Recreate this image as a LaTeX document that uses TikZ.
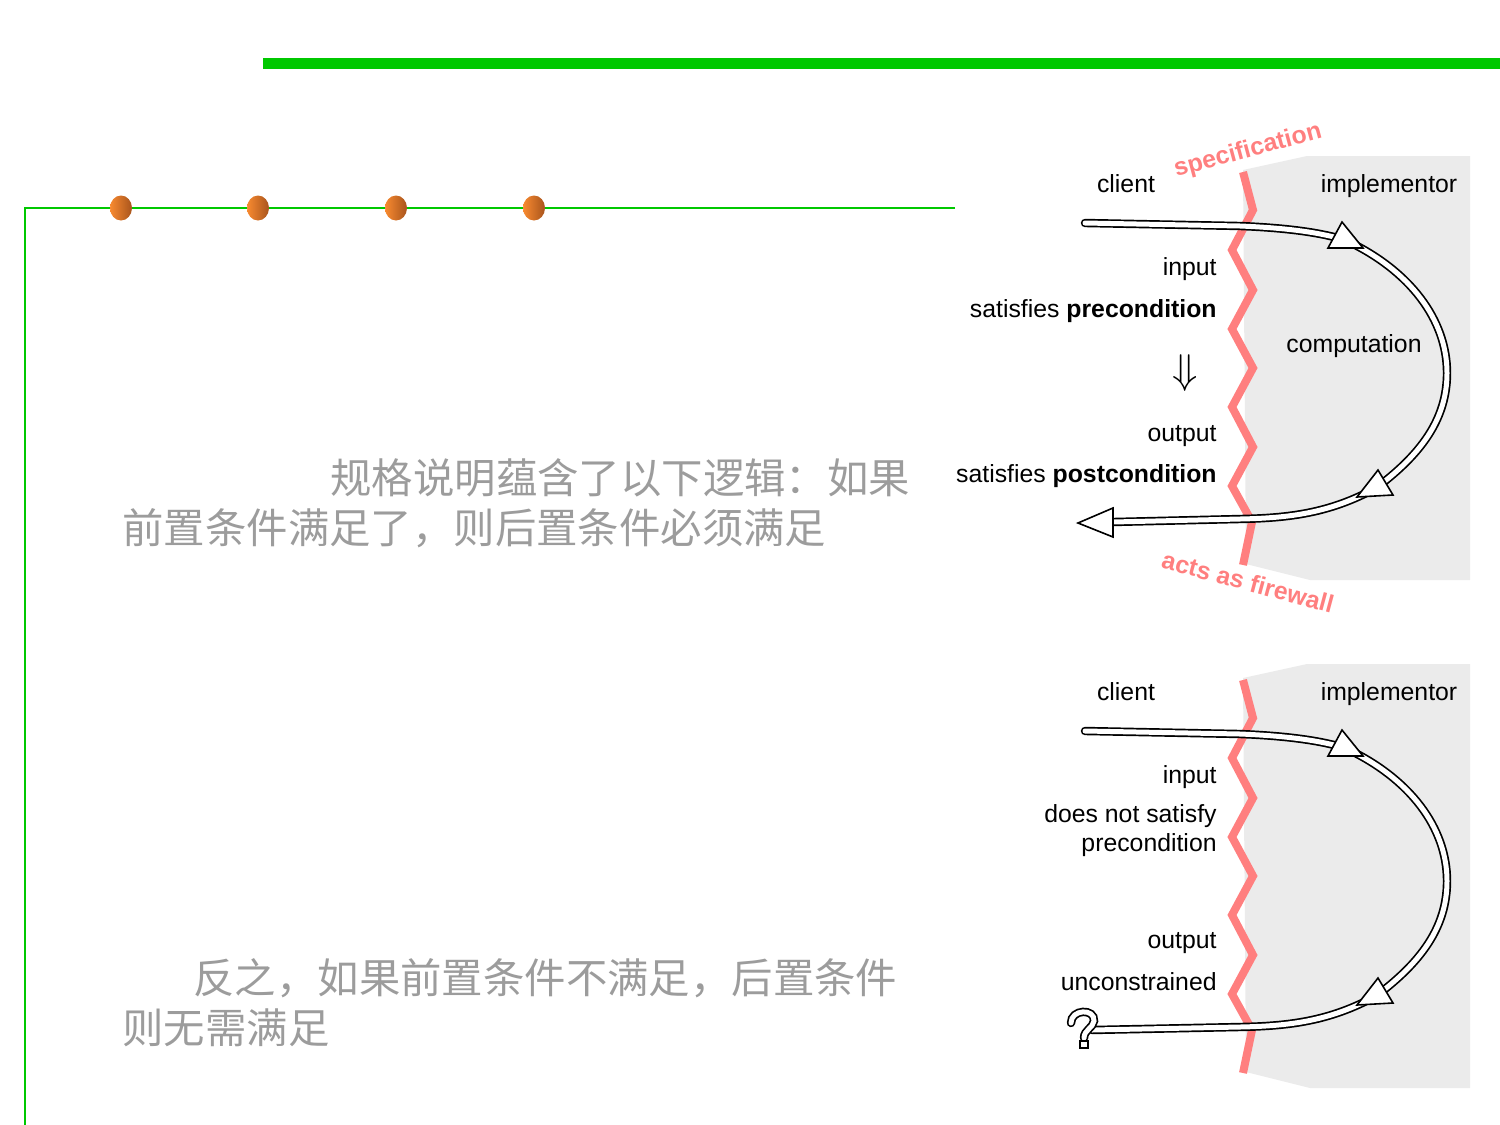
\documentclass[tikz,border=0pt]{standalone}
\usepackage{fontspec}
\setmainfont{Liberation Sans}
\newfontfamily\cjk{Noto Sans CJK SC}
\definecolor{barGreen}{HTML}{00C800}
\definecolor{wallRed}{HTML}{FF7F7F}
\definecolor{zoneGrey}{HTML}{EBEBEB}
\definecolor{noteGrey}{HTML}{9C9C9C}
\definecolor{ballLight}{HTML}{F88A30}
\definecolor{ballDark}{HTML}{A8541C}
\tikzset{
  pipe/.style={draw=black, line width=0.85pt, double=white, double distance=2.5pt, line cap=round},
  tiphead/.style={draw=black, fill=white, line width=0.8pt, line join=miter},
  wall/.style={draw=wallRed, line width=4pt, line join=miter},
  lbl/.style={font=\fontsize{12.4}{14.5}\selectfont, inner sep=0pt},
  lblr/.style={lbl, anchor=base east},
  redlbl/.style={lbl, text=wallRed, font=\fontsize{12.4}{14.5}\selectfont\bfseries},
  cnote/.style={font=\cjk\fontsize{20.7}{25}\selectfont, text=noteGrey, anchor=west, inner sep=0pt},
}
\begin{document}
\begin{tikzpicture}[x=0.5pt, y=-0.5pt]
\useasboundingbox (0,0) rectangle (1500,1125);
% slide frame
\fill[barGreen] (263,58) rectangle (1500,69);
\draw[barGreen, line width=1pt] (955,208) -- (25,208) -- (25,1125);
\foreach \bx in {121,258,396,534}
  \shade[left color=ballLight, right color=ballDark] (\bx,208) ellipse (11 and 12.5);
% notes
\node[cnote] (spec1) at (330,478) {规格说明蕴含了以下逻辑：如果};
\node[cnote] (spec2) at (122,528) {前置条件满足了，则后置条件必须满足};
\node[cnote] (conv1) at (193,978) {反之，如果前置条件不满足，后置条件};
\node[cnote] (conv2) at (122,1028) {则无需满足};
% the two diagrams
\foreach \dy/\t/\ex in {0/a/1113,508/b/1092}{
\begin{scope}[yshift={-0.5pt*\dy}]
  \fill[zoneGrey] (1243,170) -- (1307,156) -- (1470,156) -- (1470,580) -- (1310,580) -- (1246,564) -- cycle;
  \draw[wall] (1243,172) -- (1253,210) -- (1232,250) -- (1253,290) -- (1232,329) -- (1253,368)
    -- (1232,407) -- (1253,447) -- (1232,486) -- (1252,522) -- (1243,565);
  \node[lbl, anchor=base] (client\t) at (1126,192) {client};
  \node[lbl, anchor=base] (impl\t) at (1389,192) {implementor};
  \coordinate (in\t) at (1085,223);
  \coordinate (enter\t) at (1345,240);
  \coordinate (back\t) at (1376,488);
  \coordinate (out\t) at (\ex,522);
  \draw[pipe] (in\t) -- (1240,226) .. controls (1290,228) and (1322,233) .. (enter\t)
    .. controls (1410,270) and (1447,320) .. (1447,373)
    .. controls (1447,420) and (1420,455) .. (back\t)
    .. controls (1330,513) and (1290,518) .. (1240,519) -- (out\t);
  \filldraw[tiphead] (1342,222) -- (1363,248) -- (1328,248) -- cycle;
  \filldraw[tiphead] (1378,470) -- (1393,495) -- (1357,497) -- cycle;
\end{scope}
}
% top: precondition holds
\filldraw[tiphead] (1078,523) -- (1113,508) -- (1113,537) -- cycle;
\node[redlbl, rotate=15] (specn) at (1248,151) {specification};
\node[redlbl, rotate=-15] (fwall) at (1248,582) {acts as firewall};
\node[lblr] (inA) at (1217,275) {input};
\node[lblr] (preA) at (1217,317) {satisfies \textbf{precondition}};
\node[lbl, font=\fontsize{22}{24}\selectfont] (impA) at (1185,373) {$\Downarrow$};
\node[lblr] (outA) at (1217,441) {output};
\node[lblr] (postA) at (1217,482) {satisfies \textbf{postcondition}};
\node[lbl, anchor=base] (comp) at (1354,352) {computation};
% bottom: precondition fails
\node[lblr] (inB) at (1217,783) {input};
\node[lbl, anchor=east, align=right] (preB) at (1217,831) {does not satisfy\\precondition};
\node[lblr] (outB) at (1217,948) {output};
\node[lblr] (freeB) at (1217,990) {unconstrained};
\draw[pipe] (1071,1023) .. controls (1071,1009) and (1095,1008) .. (1094,1021)
  .. controls (1093,1028) and (1084,1030) .. (1084,1038);
\filldraw[tiphead] (1080,1041) rectangle (1088,1048);
\end{tikzpicture}
\end{document}
